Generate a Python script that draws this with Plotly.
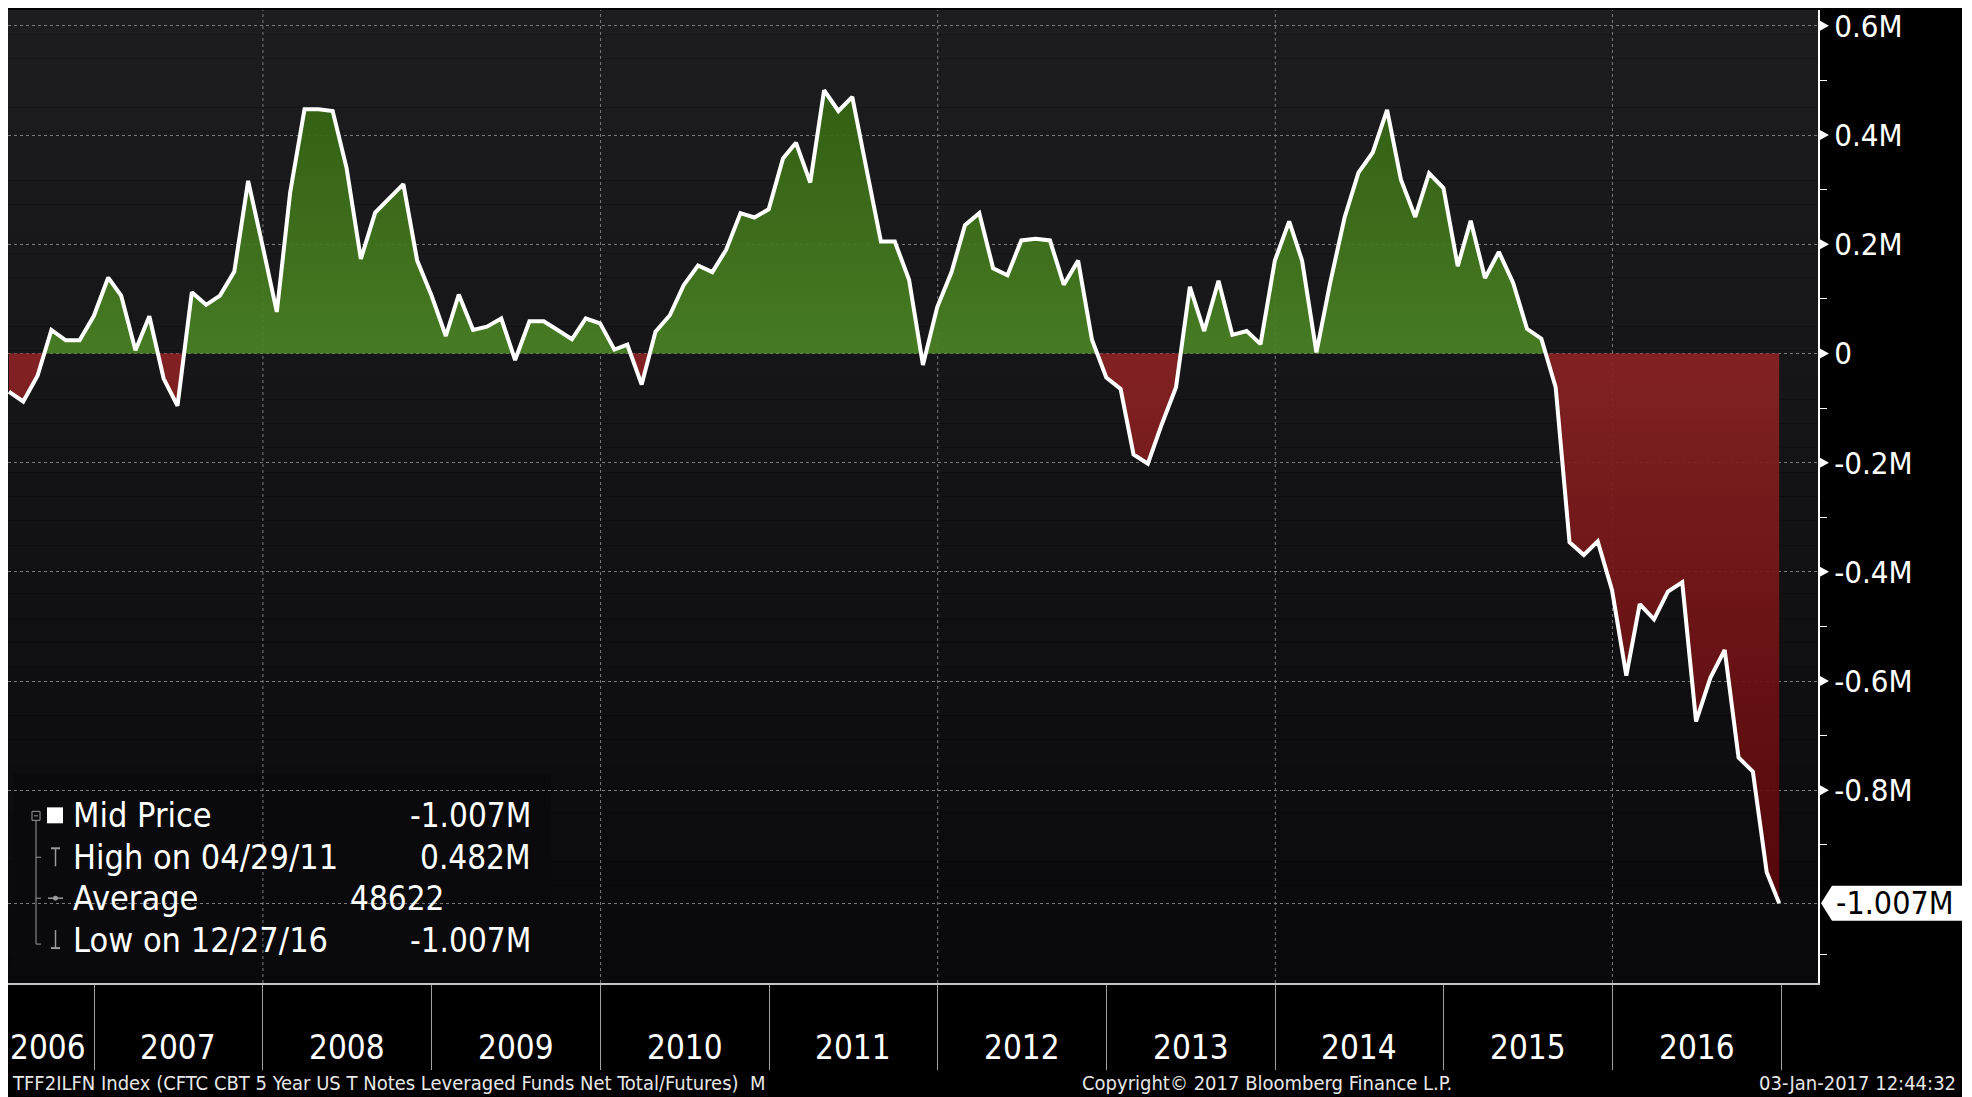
import calendar
import datetime as dt
import plotly.graph_objects as go

# ---------------- data (net position, millions of contracts, month-end) ----------------
v2006 = [-0.070, -0.088, -0.041, 0.043, 0.024, 0.024, 0.069]  # Jun..Dec
v2007 = [0.139, 0.106, 0.006, 0.068, -0.046, -0.096, 0.112, 0.089, 0.106, 0.150, 0.316, 0.198]
v2008 = [0.076, 0.295, 0.447, 0.447, 0.444, 0.340, 0.173, 0.258, 0.283, 0.310, 0.170, 0.106]
v2009 = [0.032, 0.108, 0.043, 0.049, 0.064, -0.012, 0.059, 0.059, 0.043, 0.026, 0.064, 0.055]
v2010 = [0.007, 0.016, -0.057, 0.040, 0.070, 0.125, 0.161, 0.149, 0.190, 0.257, 0.249, 0.264]
v2011 = [0.357, 0.386, 0.313, 0.482, 0.444, 0.470, 0.337, 0.205, 0.205, 0.135, -0.021, 0.085]
v2012 = [0.149, 0.235, 0.257, 0.156, 0.143, 0.207, 0.210, 0.207, 0.126, 0.170, 0.025, -0.044]
v2013 = [-0.065, -0.185, -0.202, -0.130, -0.062, 0.122, 0.041, 0.133, 0.034, 0.041, 0.017, 0.170]
v2014 = [0.242, 0.170, 0.002, 0.130, 0.249, 0.331, 0.368, 0.446, 0.318, 0.250, 0.330, 0.303]
v2015 = [0.160, 0.243, 0.138, 0.186, 0.129, 0.045, 0.027, -0.062, -0.346, -0.369, -0.344, -0.433]
v2016 = [-0.590, -0.459, -0.487, -0.436, -0.419, -0.674, -0.594, -0.543, -0.740, -0.766, -0.950, -1.007]
values = v2006 + v2007 + v2008 + v2009 + v2010 + v2011 + v2012 + v2013 + v2014 + v2015 + v2016
start_year, start_month = 2006, 6
last_date = dt.datetime(2016, 12, 27)

year_labels = [str(y) for y in range(2006, 2017)]
year_bounds = list(range(2007, 2018))
grid_years = [2008, 2010, 2012, 2014, 2016]
ytick_vals = [-0.8, -0.6, -0.4, -0.2, 0.0, 0.2, 0.4, 0.6]
ytick_text = ["-0.8M", "-0.6M", "-0.4M", "-0.2M", "0", "0.2M", "0.4M", "0.6M"]
ytick_minor = [-1.1, -0.9, -0.7, -0.5, -0.3, -0.1, 0.1, 0.3, 0.5]

legend_labels = ["Mid Price", "High on 04/29/11", "Average", "Low on 12/27/16"]
legend_values = ["-1.007M", "0.482M", "48622", "-1.007M"]

footer_left = "TFF2ILFN Index (CFTC CBT 5 Year US T Notes Leveraged Funds Net Total/Futures)\u00a0\u00a0M"
footer_mid = "Copyright\u00a9 2017 Bloomberg Finance L.P."
footer_right = "03-Jan-2017 12:44:32"

# ---------------- dates ----------------
dates = []
y, m = start_year, start_month
for _ in values:
    dates.append(dt.datetime(y, m, calendar.monthrange(y, m)[1]))
    m += 1
    if m > 12:
        m, y = 1, y + 1
dates[-1] = last_date

# split into positive / negative fills at zero crossings
xs, ys = [dates[0]], [values[0]]
for i in range(1, len(values)):
    a, b = values[i - 1], values[i]
    if a * b < 0:
        f = a / (a - b)
        xs.append(dates[i - 1] + (dates[i] - dates[i - 1]) * f)
        ys.append(0.0)
    xs.append(dates[i])
    ys.append(b)
pos = [max(v, 0.0) for v in ys]
neg = [min(v, 0.0) for v in ys]

# ---------------- geometry (page pixels; figure sits at page offset 8,8) ----------------
OFF = 8
W, H = 1954, 1089
L, R, T, B = 8, 1818, 8, 983          # plot area in page pixels
PW, PH = R - L, B - T
YMIN, YMAX = -1.153, 0.629
PXM = PH / (YMAX - YMIN)


def X(px):
    return (px - L) / PW


def Y(py):
    return (B - py) / PH


FONT = "DejaVu Sans Condensed, Liberation Sans Narrow, DejaVu Sans, sans-serif"
GRID = "#7a7a7a"

fig = go.Figure()
fig.add_trace(go.Scatter(
    x=xs, y=pos, mode="lines", line=dict(width=0), fill="tozeroy",
    fillgradient=dict(type="vertical",
                      colorscale=[[0, "rgba(74,130,36,0.93)"], [1, "rgba(52,100,18,0.93)"]]),
    hoverinfo="skip", showlegend=False))
fig.add_trace(go.Scatter(
    x=xs, y=neg, mode="lines", line=dict(width=0), fill="tozeroy",
    fillgradient=dict(type="vertical",
                      colorscale=[[0, "rgba(88,6,8,0.93)"], [1, "rgba(138,34,36,0.93)"]]),
    hoverinfo="skip", showlegend=False))
fig.add_trace(go.Scatter(
    x=dates, y=values, mode="lines", line=dict(color="white", width=4),
    showlegend=False, hoverinfo="x+y"))

shapes = []
# plot background gradient
top_c, bot_c = (29, 29, 32), (9, 9, 12)
nb = 40
for k in range(nb):
    f = (k + 0.5) / nb
    c = tuple(round(top_c[j] + (bot_c[j] - top_c[j]) * f) for j in range(3))
    shapes.append(dict(type="rect", xref="paper", yref="paper", x0=0, x1=1,
                       y0=1 - (k + 1) / nb, y1=1 - k / nb,
                       fillcolor="rgb(%d,%d,%d)" % c, line=dict(width=0), layer="below"))
# legend box
shapes.append(dict(type="rect", xref="paper", yref="paper", x0=X(13), x1=X(551), y0=Y(967), y1=Y(773),
                   fillcolor="rgb(10,10,12)", line=dict(width=0), layer="below"))
# vertical dotted grid every two years
for gy in grid_years:
    shapes.append(dict(type="line", xref="x", yref="paper", x0=dt.datetime(gy, 1, 1), x1=dt.datetime(gy, 1, 1),
                       y0=0, y1=1, line=dict(color=GRID, width=1, dash="3px,3px"), layer="between"))
# y tick triangles
d = 5.5 / PXM
for v in ytick_vals:
    shapes.append(dict(type="path", xref="paper", yref="y",
                       path="M %f,%f L %f,%f L %f,%f Z" % (X(1819), v + d, X(1829), v, X(1819), v - d),
                       fillcolor="white", line=dict(width=0), layer="above"))
# last value label box
lv = values[-1]
hh = 17.5 / PXM
shapes.append(dict(type="path", xref="paper", yref="y",
                   path="M %f,%f L %f,%f L %f,%f L %f,%f L %f,%f Z" % (
                       X(1821), lv, X(1832), lv + hh, X(1962), lv + hh, X(1962), lv - hh, X(1832), lv - hh),
                   fillcolor="white", line=dict(width=0), layer="above"))
# legend tree decorations
TG = "#9a9a9a"
shapes.append(dict(type="rect", xref="paper", yref="paper", x0=X(32), x1=X(40), y0=Y(820), y1=Y(811),
                   line=dict(color=TG, width=1), fillcolor="rgba(0,0,0,0)"))
shapes.append(dict(type="line", xref="paper", yref="paper", x0=X(34), x1=X(38), y0=Y(815.5), y1=Y(815.5),
                   line=dict(color=TG, width=1)))
shapes.append(dict(type="line", xref="paper", yref="paper", x0=X(36), x1=X(36), y0=Y(820), y1=Y(944),
                   line=dict(color=TG, width=1)))
for ry in [857, 898, 944]:
    shapes.append(dict(type="line", xref="paper", yref="paper", x0=X(36), x1=X(41), y0=Y(ry), y1=Y(ry),
                       line=dict(color=TG, width=1)))
shapes.append(dict(type="rect", xref="paper", yref="paper", x0=X(47), x1=X(63), y0=Y(823), y1=Y(807),
                   fillcolor="white", line=dict(width=0)))
# high icon (T)
shapes.append(dict(type="line", xref="paper", yref="paper", x0=X(51), x1=X(60), y0=Y(848), y1=Y(848),
                   line=dict(color=TG, width=2)))
shapes.append(dict(type="line", xref="paper", yref="paper", x0=X(55.5), x1=X(55.5), y0=Y(848), y1=Y(866),
                   line=dict(color=TG, width=1.5)))
# average icon
shapes.append(dict(type="line", xref="paper", yref="paper", x0=X(48), x1=X(63), y0=Y(898), y1=Y(898),
                   line=dict(color=TG, width=1.5)))
shapes.append(dict(type="circle", xref="paper", yref="paper", x0=X(53), x1=X(58), y0=Y(900.5), y1=Y(895.5),
                   fillcolor=TG, line=dict(width=0)))
# low icon
shapes.append(dict(type="line", xref="paper", yref="paper", x0=X(55.5), x1=X(55.5), y0=Y(930), y1=Y(948),
                   line=dict(color=TG, width=1.5)))
shapes.append(dict(type="line", xref="paper", yref="paper", x0=X(51), x1=X(60), y0=Y(948), y1=Y(948),
                   line=dict(color=TG, width=2)))

ann = []
# year labels
for lab in year_labels:
    yr = int(lab)
    if yr == 2006:
        ann.append(dict(x=X(8), xref="paper", y=Y(1048), yref="paper", text=lab, showarrow=False,
                        xanchor="left", yanchor="middle", font=dict(family=FONT, size=33, color="white")))
    else:
        ann.append(dict(x=dt.datetime(yr, 7, 2), xref="x", y=Y(1048), yref="paper", text=lab, showarrow=False,
                        xanchor="center", yanchor="middle", font=dict(family=FONT, size=33, color="white")))
# legend text
rows = [815, 857, 898, 940]
for lab, val, ry in zip(legend_labels, legend_values, rows):
    ann.append(dict(x=X(71), xref="paper", y=Y(ry), yref="paper", text=lab, showarrow=False,
                    xanchor="left", yanchor="middle", font=dict(family=FONT, size=34, color="white")))
    vx = 446 if lab == "Average" else 533
    ann.append(dict(x=X(vx), xref="paper", y=Y(ry), yref="paper", text=val, showarrow=False,
                    xanchor="right", yanchor="middle", font=dict(family=FONT, size=33, color="white")))
# last value label text
ann.append(dict(x=X(1834), xref="paper", y=lv, yref="y", text="%.3fM" % lv, showarrow=False,
                xanchor="left", yanchor="middle", font=dict(family=FONT, size=32, color="black")))
# footer
ann.append(dict(x=X(10), xref="paper", y=Y(1083), yref="paper", text=footer_left, showarrow=False,
                xanchor="left", yanchor="middle", font=dict(family=FONT, size=20, color="#e8e8e8")))
ann.append(dict(x=X(1267), xref="paper", y=Y(1083), yref="paper", text=footer_mid, showarrow=False,
                xanchor="center", yanchor="middle", font=dict(family=FONT, size=20, color="#e8e8e8")))
ann.append(dict(x=X(1958), xref="paper", y=Y(1083), yref="paper", text=footer_right, showarrow=False,
                xanchor="right", yanchor="middle", font=dict(family=FONT, size=20, color="#e8e8e8")))

fig.update_layout(
    width=W, height=H,
    margin=dict(l=L - OFF, r=(OFF + W) - R, t=T - OFF, b=(OFF + H) - B, pad=0),
    paper_bgcolor="black", plot_bgcolor="rgba(0,0,0,0)",
    showlegend=False, shapes=shapes, annotations=ann,
    xaxis=dict(type="date", range=[dt.datetime(2006, 6, 28), dt.datetime(2017, 3, 21)],
               tickmode="array", tickvals=[dt.datetime(yb, 1, 1) for yb in year_bounds],
               ticktext=["" for _ in year_bounds], ticks="outside", ticklen=85, tickwidth=1,
               tickcolor="#a0a0a0", showgrid=False, zeroline=False,
               showline=True, linecolor="#c4c4c4", linewidth=2, fixedrange=True),
    yaxis=dict(side="right", range=[YMIN, YMAX], tickmode="array",
               tickvals=ytick_vals + [lv], ticktext=ytick_text + [""],
               ticks="outside", ticklen=8, tickcolor="rgba(0,0,0,0)",
               tickfont=dict(family=FONT, size=31, color="white"), ticklabeloverflow="allow",
               showgrid=True, gridcolor=GRID, griddash="3px,3px", gridwidth=1, zeroline=False,
               showline=True, linecolor="white", linewidth=2,
               minor=dict(tickmode="array", tickvals=ytick_minor, ticks="outside", ticklen=7,
                          tickcolor="white", tickwidth=1, showgrid=False),
               fixedrange=True),
)

fig.write_html("out.html")
